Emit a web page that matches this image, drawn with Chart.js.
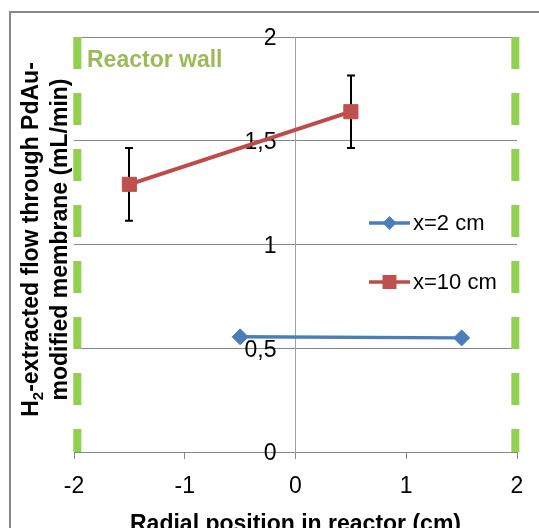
<!DOCTYPE html>
<html>
<head>
<meta charset="utf-8">
<script src="https://cdn.jsdelivr.net/npm/chart.js@4.4.0/dist/chart.umd.min.js"></script>
<style>
  html, body { margin: 0; padding: 0; background: #fff; }
</style>
</head>
<body>
<canvas id="chart" width="539" height="528"></canvas>
<script>
// data
const positions2 = [-0.5, 1.5];
const flow2 = [0.555, 0.55];
const positions10 = [-1.5, 0.5];
const flow10 = [1.29, 1.64];
const error10 = [0.175, 0.175];
const wallPositions = [-1.97, 1.985];
const wallRange = [2, 0];
const seriesLabels = ['x=2 cm', 'x=10 cm'];
const xTicks = [-2, -1, 0, 1, 2];
const yTicks = [0, 0.5, 1, 1.5, 2];

const FONT = '"Liberation Sans", Arial, sans-serif';
const GRID = '#868686';

function points(xs, ys) {
  return xs.map((x, i) => ({ x: x, y: ys[i] }));
}

const datasets = [
  {
    label: seriesLabels[0],
    data: points(positions2, flow2),
    borderColor: '#4A7EBB',
    borderWidth: 3.5,
    pointStyle: 'rectRot',
    pointRadius: 8,
    pointBackgroundColor: '#4A7EBB',
    pointBorderColor: '#4A7EBB',
    pointBorderWidth: 1,
  },
  {
    label: seriesLabels[1],
    data: points(positions10, flow10),
    borderColor: '#BE4B48',
    borderWidth: 4,
    pointStyle: 'rect',
    pointRadius: 10,
    pointBackgroundColor: '#C0504D',
    pointBorderColor: '#C0504D',
    pointBorderWidth: 1,
  },
];

// the two reactor walls as dashed vertical lines
wallPositions.forEach((w) => {
  datasets.push({
    label: 'wall',
    data: wallRange.map((y) => ({ x: w, y: y })),
    borderColor: '#92D050',
    borderWidth: 8,
    borderDash: [32, 24],
    borderCapStyle: 'butt',
    pointRadius: 0,
    clip: false,
  });
});

// frame and white background, and move y tick labels off the centre axis
const framePlugin = {
  id: 'frame',
  beforeDraw(chart) {
    const c = chart.ctx;
    c.save();
    c.fillStyle = '#fff';
    c.fillRect(0, 0, chart.width, chart.height);
    c.strokeStyle = '#888';
    c.lineWidth = 2;
    c.strokeRect(10, 12, chart.width + 20, chart.height + 20);
    c.restore();

    const items = chart.scales.y.getLabelItems();
    if (!items._shifted) {
      items.forEach((it) => {
        it.options.translation[0] -= 19;
        it.options.translation[1] += 2;
      });
      items._shifted = true;
    }
  },
};

// error bars on the x=10 cm series
const errorBarPlugin = {
  id: 'errorBars',
  beforeDatasetsDraw(chart) {
    const c = chart.ctx;
    const xs = chart.scales.x;
    const ys = chart.scales.y;
    c.save();
    c.strokeStyle = '#000';
    c.lineWidth = 2;
    positions10.forEach((p, i) => {
      const px = Math.round(xs.getPixelForValue(p));
      const top = ys.getPixelForValue(flow10[i] + error10[i]);
      const bot = ys.getPixelForValue(flow10[i] - error10[i]);
      c.beginPath();
      c.moveTo(px, top);
      c.lineTo(px, bot);
      c.moveTo(px - 4, top);
      c.lineTo(px + 4, top);
      c.moveTo(px - 4, bot);
      c.lineTo(px + 4, bot);
      c.stroke();
    });
    c.restore();
  },
};

// legend, wall label and y title
const labelsPlugin = {
  id: 'labels',
  afterDraw(chart) {
    const c = chart.ctx;
    const area = chart.chartArea;
    c.save();

    // legend inside the plot
    const lx = area.left + 295;
    [223, 282].forEach((ly, i) => {
      const ds = chart.data.datasets[i];
      c.strokeStyle = ds.borderColor;
      c.lineWidth = 3.5;
      c.beginPath();
      c.moveTo(lx, ly);
      c.lineTo(lx + 41, ly);
      c.stroke();
      c.fillStyle = ds.pointBackgroundColor;
      c.beginPath();
      if (ds.pointStyle === 'rectRot') {
        c.moveTo(lx + 20.5, ly - 7);
        c.lineTo(lx + 27.5, ly);
        c.lineTo(lx + 20.5, ly + 7);
        c.lineTo(lx + 13.5, ly);
        c.closePath();
      } else {
        c.rect(lx + 13.5, ly - 7, 14, 14);
      }
      c.fill();
      c.fillStyle = '#000';
      c.font = '22px ' + FONT;
      c.textBaseline = 'middle';
      c.textAlign = 'left';
      c.fillText(ds.label, lx + 44, ly + 1);
    });

    // reactor wall label
    c.fillStyle = '#9BBB59';
    c.font = 'bold 23px ' + FONT;
    c.textBaseline = 'alphabetic';
    c.fillText('Reactor wall', area.left + 13, area.top + 30);

    // y axis title, two rotated lines
    const cy = (area.top + area.bottom) / 2 - 5;
    c.fillStyle = '#000';
    c.translate(0, cy);
    c.rotate(-Math.PI / 2);
    const big = 'bold 23px ' + FONT;
    const small = 'bold 15px ' + FONT;
    c.font = big;
    const wH = c.measureText('H').width;
    const rest = '-extracted flow through PdAu-';
    const wRest = c.measureText(rest).width;
    c.font = small;
    const w2 = c.measureText('2').width;
    let x = -(wH + w2 + wRest) / 2;
    c.textAlign = 'left';
    c.font = big;
    c.fillText('H', x, 38);
    x += wH;
    c.font = small;
    c.fillText('2', x, 43);
    x += w2;
    c.font = big;
    c.fillText(rest, x, 38);
    c.textAlign = 'center';
    c.fillText('modified membrane (mL/min)', 0, 67);
    c.restore();
  },
};

new Chart(document.getElementById('chart'), {
  type: 'line',
  data: { datasets: datasets },
  options: {
    responsive: false,
    animation: false,
    devicePixelRatio: 1,
    layout: { padding: { left: 74, top: 37, right: 22, bottom: 0 } },
    plugins: {
      legend: { display: false },
      tooltip: { enabled: false },
    },
    scales: {
      x: {
        type: 'linear',
        position: 'bottom',
        min: -2,
        max: 2,
        afterBuildTicks: (scale) => {
          scale.ticks = xTicks.map((v) => ({ value: v }));
        },
        afterFit: (scale) => {
          scale.height = 76;
        },
        grid: { drawOnChartArea: false, drawTicks: true, tickLength: 7, color: GRID },
        border: { color: GRID },
        ticks: {
          font: { family: FONT, size: 23 },
          color: '#000',
          padding: 14,
          maxRotation: 0,
          autoSkip: false,
        },
        title: {
          display: true,
          text: 'Radial position in reactor (cm)',
          font: { family: FONT, size: 23, weight: 'bold' },
          color: '#000',
          padding: { top: 10, bottom: -10 },
        },
      },
      y: {
        type: 'linear',
        position: { x: 0 },
        min: 0,
        max: 2,
        afterBuildTicks: (scale) => {
          scale.ticks = yTicks.map((v) => ({ value: v }));
        },
        grid: { color: GRID, drawTicks: false },
        border: { color: '#a0a0a0' },
        ticks: {
          font: { family: FONT, size: 23 },
          color: '#000',
          padding: 19,
          callback: (v) => String(v).replace('.', ','),
        },
      },
    },
  },
  plugins: [framePlugin, errorBarPlugin, labelsPlugin],
});
</script>
</body>
</html>
